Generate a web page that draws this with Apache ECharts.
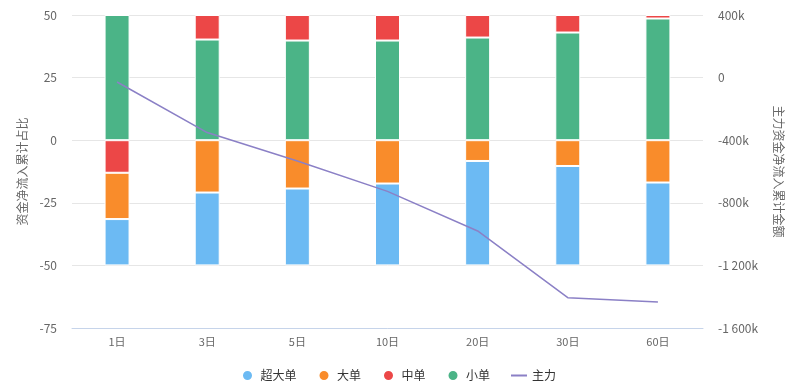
<!DOCTYPE html>
<html>
<head>
<meta charset="utf-8">
<script src="https://cdn.jsdelivr.net/npm/echarts@6/dist/echarts.min.js"></script>
<style>html,body{margin:0;padding:0;background:#fff;}#c{width:797px;height:389px;}</style>
</head>
<body>
<div id="c"></div>
<script>
var categories = ['1日','3日','5日','10日','20日','30日','60日'];
var superLarge = [-18.5, -29.1, -30.7, -32.7, -41.7, -39.7, -33.1];
var large = [-18.5, -20.9, -19.3, -17.3, -8.3, -10.3, -16.9];
var medium = [-13, 9.8, 10.2, 10.2, 9, 7, 1.4];
var small = [50, 40.2, 39.8, 39.8, 41, 43, 48.6];
var mainForce = [-28000, -351000, -533000, -727000, -980000, -1406000, -1434000];

var font = 'Noto Sans CJK SC, sans-serif';
function fmtK(v){
  if (v === 0) return '0';
  var k = Math.round(v/1000);
  var s = Math.abs(k).toString().replace(/\B(?=(\d{3})+(?!\d))/g, ' ');
  return (k<0?'-':'') + s + 'k';
}
var lineIcon = 'path://M0,0L0.01,0L0.01,0.01Z M0,4.5L16,4.5L16,6.5L0,6.5Z M0,11L0.01,11L0.01,11.01Z';
var barStyle = function(c){ return {color:c, borderColor:'#fff', borderWidth:1}; };
var chart = echarts.init(document.getElementById('c'), null, {renderer:'canvas'});
chart.setOption({
  animation:false,
  textStyle:{fontFamily:font},
  grid:{left:72, right:94, top:15, bottom:61},
  legend:{
    data:[
      {name:'超大单', icon:'circle'},
      {name:'大单', icon:'circle'},
      {name:'中单', icon:'circle'},
      {name:'小单', icon:'circle'},
      {name:'主力', icon:lineIcon}
    ],
    bottom:2, left:'center', itemWidth:16, itemHeight:11, itemGap:21,
    textStyle:{color:'#333', fontSize:12, fontFamily:font}
  },
  xAxis:{
    type:'category', data:categories,
    axisLine:{onZero:false, lineStyle:{color:'#c6d4ea'}},
    axisTick:{length:8, lineStyle:{color:'#c6d4ea'}},
    axisLabel:{color:'#666', fontSize:11, margin:8}
  },
  yAxis:[
    {type:'value', min:-75, max:50, interval:25,
     name:'资金净流入累计占比', nameLocation:'middle', nameGap:44,
     nameTextStyle:{color:'#666', fontSize:12},
     axisLine:{show:false}, axisTick:{show:false},
     axisLabel:{color:'#666', fontSize:12, margin:15},
     splitLine:{lineStyle:{color:'#e6e6e6'}}
    },
    {type:'value', min:-1600000, max:400000, interval:400000, position:'right',
     name:'主力资金净流入累计金额', nameLocation:'middle', nameGap:70, nameRotate:-90,
     nameTextStyle:{color:'#666', fontSize:12},
     axisLine:{show:false}, axisTick:{show:false},
     axisLabel:{color:'#666', fontSize:12, margin:15, formatter:fmtK},
     splitLine:{show:false}
    }
  ],
  series:[
    {name:'小单', type:'bar', stack:'a', barWidth:25, data:small, itemStyle:barStyle('#4bb487')},
    {name:'中单', type:'bar', stack:'a', barWidth:25, data:medium, itemStyle:barStyle('#ec4747')},
    {name:'大单', type:'bar', stack:'a', barWidth:25, data:large, itemStyle:barStyle('#f98c2b')},
    {name:'超大单', type:'bar', stack:'a', barWidth:25, data:superLarge, itemStyle:barStyle('#6cbaf3')},
    {name:'主力', type:'line', yAxisIndex:1, data:mainForce, showSymbol:false, symbol:'none',
     lineStyle:{color:'#8b80c6', width:1.5}, itemStyle:{color:'#8b80c6'}}
  ]
});
</script>
</body>
</html>
